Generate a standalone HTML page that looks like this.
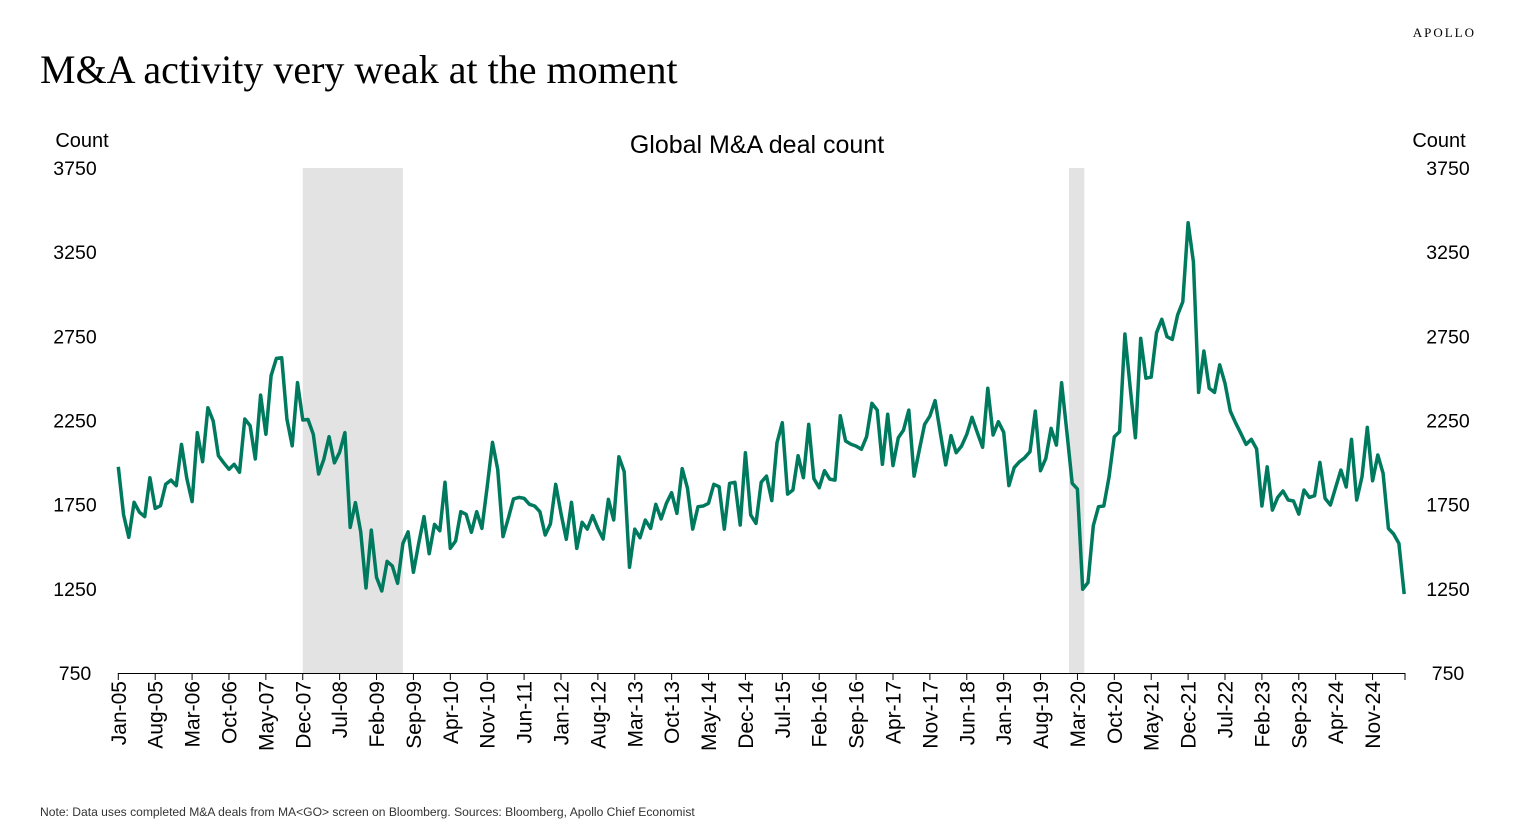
<!DOCTYPE html>
<html><head><meta charset="utf-8"><style>
body{margin:0;background:#fff;width:1513px;height:835px;overflow:hidden;font-family:"Liberation Sans","DejaVu Sans",sans-serif}
</style></head><body>
<svg id="chart" width="1513" height="835" xmlns="http://www.w3.org/2000/svg">
<text x="1476" y="37" text-anchor="end" font-family="Liberation Serif,serif" font-size="13" letter-spacing="2">APOLLO</text>
<text x="40" y="83" font-family="Liberation Serif,serif" font-size="40">M&amp;A activity very weak at the moment</text>
<text x="757" y="153" text-anchor="middle" font-size="25">Global M&amp;A deal count</text>
<text x="82" y="147" text-anchor="middle" font-size="20">Count</text>
<text x="1439" y="147" text-anchor="middle" font-size="20">Count</text>
<g id="shade"></g><g id="yticks"></g><g id="xaxis"></g>
<path id="line" fill="none" stroke="#007a5e" stroke-width="3.5" stroke-linejoin="round"/>
<text x="40" y="816" font-size="12.1" fill="#333">Note: Data uses completed M&amp;A deals from MA&lt;GO&gt; screen on Bloomberg. Sources: Bloomberg, Apollo Chief Economist</text>
</svg>
<script>
const yTicks=[750,1250,1750,2250,2750,3250,3750];
const xLabels=["Jan-05","Aug-05","Mar-06","Oct-06","May-07","Dec-07","Jul-08","Feb-09","Sep-09","Apr-10","Nov-10","Jun-11","Jan-12","Aug-12","Mar-13","Oct-13","May-14","Dec-14","Jul-15","Feb-16","Sep-16","Apr-17","Nov-17","Jun-18","Jan-19","Aug-19","Mar-20","Oct-20","May-21","Dec-21","Jul-22","Feb-23","Sep-23","Apr-24","Nov-24"];
const recessions=[[35,54],[180.4,183.3]];
const counts=[1975,1689,1556,1764,1705,1679,1910,1728,1744,1871,1896,1863,2108,1906,1768,2178,2005,2326,2247,2041,1999,1960,1990,1942,2259,2219,2021,2401,2168,2516,2619,2623,2259,2100,2475,2253,2256,2168,1932,2019,2154,1999,2061,2178,1615,1762,1589,1255,1599,1319,1237,1413,1386,1283,1520,1589,1348,1520,1679,1459,1633,
1595,1883,1490,1534,1708,1693,1586,1708,1609,1857,2120,1960,1560,1669,1784,1793,1788,1752,1742,1708,1570,1635,1871,1698,1544,1764,1490,1645,1605,1685,1609,1546,1782,1659,2035,1946,1378,1605,1554,1659,1609,1752,1665,1758,1821,1698,1964,1847,1605,1738,1742,1758,1871,1857,1605,1877,1883,1629,2059,1689,1639,
1883,1920,1774,2118,2237,1813,1837,2041,1910,2227,1904,1851,1952,1902,1896,2278,2128,2110,2098,2079,2154,2352,2312,1990,2287,1982,2148,2193,2312,1920,2075,2227,2277,2368,2174,1986,2160,2059,2098,2168,2269,2178,2091,2441,2164,2243,2180,1863,1970,2005,2029,2065,2306,1952,2025,2203,2104,2474,2180,
1877,1843,1247,1287,1625,1738,1742,1916,2154,2184,2764,2451,2148,2738,2501,2507,2771,2851,2748,2732,2877,2956,3425,3193,2417,2663,2441,2417,2580,2471,2306,2237,2174,2108,2138,2081,1742,1975,1718,1793,1831,1778,1772,1694,1837,1793,1803,2001,1787,1748,1853,1956,1855,2138,1778,1916,2209,1892,2045,1936,1609,1576,1520,1219];
const NS="http://www.w3.org/2000/svg";
const x=m=>118.3+m*5.27;
const y=v=>673-(v-750)*(505/3000);
function mk(t,a,p){const e=document.createElementNS(NS,t);for(const k in a)e.setAttribute(k,a[k]);p.appendChild(e);return e;}
const sh=document.getElementById('shade');
recessions.forEach(r=>{const e=mk('rect',{x:x(r[0]),y:168,width:x(r[1])-x(r[0]),height:505,fill:'#e3e3e3'},sh);

});
const yt=document.getElementById('yticks');
yTicks.forEach(v=>{
const a=mk('text',{x:75,y:y(v)+7,'text-anchor':'middle','font-size':19.5},yt);a.textContent=v;


const b=mk('text',{x:1448,y:y(v)+7,'text-anchor':'middle','font-size':19.5},yt);b.textContent=v;

});
const xa=document.getElementById('xaxis');
const ax=mk('line',{x1:118,x2:1405,y1:673.5,y2:673.5,stroke:'#000','stroke-width':1},xa);


xLabels.forEach((l,i)=>{const m=i*7;const px=x(m);
mk('line',{x1:px,x2:px,y1:673,y2:680,stroke:'#000','stroke-width':1},xa);
const t=mk('text',{transform:`translate(${px+7.5},681) rotate(-90)`,'text-anchor':'end','font-size':21},xa);t.textContent=l;

});
mk('line',{x1:1405,x2:1405,y1:673,y2:680,stroke:'#000'},xa);
document.getElementById('line').setAttribute('d',counts.map((v,i)=>(i?'L':'M')+x(i).toFixed(1)+','+y(v).toFixed(1)).join(''));
</script>
</body></html>
